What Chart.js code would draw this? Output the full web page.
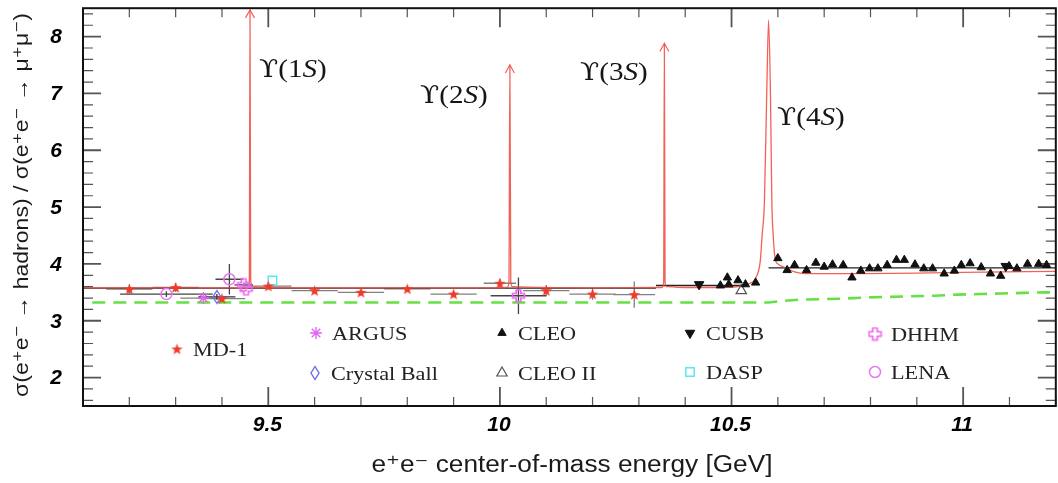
<!DOCTYPE html>
<html>
<head>
<meta charset="utf-8">
<script src="https://cdn.jsdelivr.net/npm/chart.js@4.4.1/dist/chart.umd.min.js"></script>
<style>
  html, body { margin: 0; padding: 0; background: #fff; overflow: hidden; }
</style>
</head>
<body>
<canvas id="rChart" width="1064" height="483"></canvas>
<script>
// R = sigma(hadrons)/sigma(mumu) in the Upsilon region

// theory curve with the four resonances
var curveE = [9.10, 9.455, 9.459, 9.4605, 9.462, 9.467, 9.60, 10.00, 10.016, 10.0195, 10.0215, 10.0235, 10.027, 10.20,
  10.35, 10.3535, 10.355, 10.3565, 10.36, 10.40, 10.50, 10.52, 10.54, 10.552, 10.562, 10.566, 10.571, 10.576, 10.58,
  10.584, 10.587, 10.590, 10.594, 10.60, 10.615, 10.636, 10.66, 10.75, 11.00, 11.20];
var curveR = [3.578, 3.578, 3.65, 8.47, 3.70, 3.59, 3.578, 3.578, 3.59, 3.68, 7.50, 3.68, 3.60, 3.58,
  3.585, 3.68, 7.88, 3.68, 3.60, 3.585, 3.59, 3.61, 3.66, 3.75, 4.05, 4.50, 5.10, 7.00, 8.29,
  7.00, 5.10, 4.50, 4.10, 4.00, 3.94, 3.86, 3.83, 3.83, 3.85, 3.87];
var arrowE = [9.4605, 10.0215, 10.355];

// pQCD expectation (dashed)
var qcdE = [9.12, 10.58, 10.61, 10.645, 10.693, 10.742, 10.79, 10.837, 10.888, 10.938, 10.987, 11.039, 11.084, 11.131, 11.178, 11.20];
var qcdR = [3.32, 3.32, 3.35, 3.37, 3.38, 3.39, 3.41, 3.42, 3.43, 3.44, 3.46, 3.47, 3.48, 3.49, 3.50, 3.50];

// averaged continuum levels [from, to, R]
var levelSegs = [[9.10, 10.337, 3.575], [10.337, 10.53, 3.62], [10.58, 11.20, 3.93]];

// measurements
var md1E = [9.2, 9.3, 9.4, 9.5, 9.6, 9.7, 9.8, 9.9, 10.0, 10.1, 10.2, 10.29];
var md1R = [3.556, 3.585, 3.39, 3.61, 3.53, 3.50, 3.56, 3.47, 3.66, 3.53, 3.47, 3.46];
var md1dE = [0.05, 0.05, 0.05, 0.05, 0.05, 0.05, 0.05, 0.05, 0.035, 0.05, 0.05, 0.045];
var md1dR = [0.08, 0.08, 0.05, 0.06, 0.05, 0.05, 0.05, 0.05, 0.08, 0.10, 0.10, 0.23];

var argusE = [9.36], argusR = [3.40], argusdE = [0.05], argusdR = [0.04];
var cbE = [9.389], cbR = [3.42], cbdE = [0.04], cbdR = [0.05];
var lenaE = [9.28, 9.416], lenaR = [3.47, 3.73], lenadE = [0.10, 0.03], lenadR = [0.05, 0.27];
var dhhmE = [9.447, 9.452, 10.04], dhhmR = [3.63, 3.56, 3.44], dhhmdE = [0.02, 0, 0.06], dhhmdR = [0.03, 0, 0.32];
var daspE = [9.509], daspR = [3.71];
var cusbE = [10.43, 11.092], cusbR = [3.64, 3.96];
var cleo2E = [10.521], cleo2R = [3.53];
var cleoE = [10.476, 10.491, 10.494, 10.514, 10.530, 10.552, 10.600, 10.620, 10.636, 10.662, 10.682, 10.700, 10.718,
  10.741, 10.760, 10.779, 10.798, 10.816, 10.836, 10.856, 10.873, 10.896, 10.915, 10.934, 10.959, 10.981, 10.996,
  11.015, 11.039, 11.059, 11.081, 11.099, 11.116, 11.139, 11.163, 11.180];
var cleoR = [3.62, 3.76, 3.64, 3.71, 3.64, 3.67, 4.10, 3.89, 3.98, 3.89, 4.02, 3.95, 3.99,
  3.98, 3.76, 3.88, 3.92, 3.92, 3.98, 4.07, 4.07, 3.99, 3.92, 3.92, 3.83, 3.88, 3.98,
  4.01, 3.94, 3.83, 3.79, 3.96, 3.92, 4.00, 4.00, 3.98];

// axis ticks
var xLabels = ['9.5', '10', '10.5', '11'];
var yLabels = ['2', '3', '4', '5', '6', '7', '8'];
var peakNames = ['1', '2', '3', '4'];

function pts(xs, ys) {
  return xs.map(function (x, i) { return { x: x, y: ys[i] }; });
}

function marker(w, h, draw) {
  var c = document.createElement('canvas');
  c.width = w; c.height = h;
  draw(c.getContext('2d'), w, h);
  return c;
}

var starMark = marker(13, 13, function (g) {
  g.fillStyle = '#f03a2a';
  g.beginPath();
  for (var i = 0; i < 10; i++) {
    var r = i % 2 ? 2.4 : 6;
    var a = -Math.PI / 2 + i * Math.PI / 5;
    g.lineTo(6.5 + r * Math.cos(a), 7 + r * Math.sin(a));
  }
  g.closePath();
  g.fill();
});

var diamondMark = marker(12, 16, function (g) {
  g.strokeStyle = '#6b6bf0';
  g.lineWidth = 1.4;
  g.beginPath();
  g.moveTo(6, 1.5); g.lineTo(10, 8); g.lineTo(6, 14.5); g.lineTo(2, 8);
  g.closePath();
  g.stroke();
});

var crossMark = marker(15, 15, function (g) {
  var a = 1.5, b = 5.2, c = 9.8, d = 13.5;
  g.strokeStyle = '#ee66ee';
  g.lineWidth = 1.6;
  g.beginPath();
  g.moveTo(b, a); g.lineTo(c, a); g.lineTo(c, b); g.lineTo(d, b); g.lineTo(d, c); g.lineTo(c, c);
  g.lineTo(c, d); g.lineTo(b, d); g.lineTo(b, c); g.lineTo(a, c); g.lineTo(a, b); g.lineTo(b, b);
  g.closePath();
  g.stroke();
});

function pointSet(label, xs, ys, style, extra) {
  var ds = {
    label: label,
    data: pts(xs, ys),
    showLine: false,
    pointStyle: style.shape,
    pointRadius: style.r,
    pointRotation: style.rot || 0,
    backgroundColor: style.fill,
    borderColor: style.line,
    borderWidth: style.bw || 1.2,
    legendAt: style.at
  };
  for (var k in extra) ds[k] = extra[k];
  return ds;
}

var datasets = [
  pointSet('MD-1', md1E, md1R, { shape: starMark, r: 6, fill: '#f03a2a', line: '#f03a2a', at: [177, 349] },
    { errE: md1dE, errR: md1dR, errColor: '#808080' }),
  pointSet('ARGUS', argusE, argusR, { shape: 'star', r: 6, fill: 'transparent', line: '#e066f0', bw: 1.4, at: [316, 333] },
    { errE: argusdE, errR: argusdR, errColor: '#808080' }),
  pointSet('Crystal Ball', cbE, cbR, { shape: diamondMark, r: 7, fill: 'transparent', line: '#6b6bf0', at: [315, 373] },
    { errE: cbdE, errR: cbdR, errColor: '#333' }),
  pointSet('CLEO', cleoE, cleoR, { shape: 'triangle', r: 4.8, fill: '#111', line: '#111', bw: 1, at: [502, 333] }),
  pointSet('CLEO II', cleo2E, cleo2R, { shape: 'triangle', r: 6, fill: 'transparent', line: '#555', bw: 1.2, at: [502, 373] }),
  pointSet('CUSB', cusbE, cusbR, { shape: 'triangle', r: 5.5, rot: 180, fill: '#111', line: '#111', bw: 1, at: [690, 333] }),
  pointSet('DASP', daspE, daspR, { shape: 'rect', r: 6, fill: 'transparent', line: '#5ee6f0', bw: 1.5, at: [690, 372] }),
  pointSet('DHHM', dhhmE, dhhmR, { shape: crossMark, r: 7, fill: 'transparent', line: '#ee66ee', at: [875, 334] },
    { errE: dhhmdE, errR: dhhmdR, errColor: '#444' }),
  pointSet('LENA', lenaE, lenaR, { shape: 'circle', r: 5.5, fill: 'transparent', line: '#e878f0', bw: 1.5, at: [875, 372] },
    { errE: lenadE, errR: lenadR, errColor: '#444' }),
  {
    label: 'curve',
    data: pts(curveE, curveR),
    showLine: true,
    borderColor: 'rgba(240, 80, 70, 0.9)',
    borderWidth: 1.3,
    pointRadius: 0,
    cubicInterpolationMode: 'monotone',
    arrows: arrowE
  },
  {
    label: 'levels',
    data: levelSegs.reduce(function (acc, s) {
      return acc.concat([{ x: s[0], y: s[2] }, { x: s[1], y: s[2] }, { x: s[1], y: null }]);
    }, []),
    showLine: true,
    spanGaps: false,
    borderColor: '#222',
    borderWidth: 1.4,
    pointRadius: 0
  },
  {
    label: 'qcd',
    data: pts(qcdE, qcdR),
    showLine: true,
    borderColor: '#66e044',
    borderWidth: 2.6,
    borderDash: [13, 8],
    pointRadius: 0
  }
];

// stretched text helper (text runs with own fonts)
function drawRuns(ctx, runs, x, y, sx, align) {
  var w = 0;
  runs.forEach(function (r) { ctx.font = r.f; w += ctx.measureText(r.t).width; });
  ctx.save();
  ctx.translate(x, y);
  ctx.scale(sx, 1);
  var cx = align === 'center' ? -w / 2 : 0;
  ctx.textBaseline = 'middle';
  ctx.textAlign = 'left';
  runs.forEach(function (r) { ctx.font = r.f; ctx.fillText(r.t, cx, 0); cx += ctx.measureText(r.t).width; });
  ctx.restore();
}

function fitText(ctx, text, font, x, y, width, rot) {
  ctx.save();
  ctx.font = font;
  var w = ctx.measureText(text).width;
  ctx.translate(x, y);
  if (rot) ctx.rotate(rot);
  ctx.scale(width / w, 1);
  ctx.textAlign = 'center';
  ctx.textBaseline = 'middle';
  ctx.fillText(text, 0, 0);
  ctx.restore();
}

var errorBars = {
  id: 'errorBars',
  beforeDatasetsDraw: function (chart) {
    var ctx = chart.ctx, xs = chart.scales.x, ys = chart.scales.y;
    chart.data.datasets.forEach(function (ds) {
      if (!ds.errE) return;
      ctx.save();
      ctx.strokeStyle = ds.errColor;
      ctx.lineWidth = 1.3;
      ds.data.forEach(function (p, i) {
        var px = xs.getPixelForValue(p.x), py = ys.getPixelForValue(p.y);
        ctx.beginPath();
        if (ds.errE[i]) {
          ctx.moveTo(xs.getPixelForValue(p.x - ds.errE[i]), py);
          ctx.lineTo(xs.getPixelForValue(p.x + ds.errE[i]), py);
        }
        if (ds.errR[i]) {
          ctx.moveTo(px, ys.getPixelForValue(p.y - ds.errR[i]));
          ctx.lineTo(px, ys.getPixelForValue(p.y + ds.errR[i]));
        }
        ctx.stroke();
      });
      ctx.restore();
    });
  }
};

var frame = {
  id: 'frame',
  beforeDatasetsDraw: function (chart) {
    var ctx = chart.ctx, a = chart.chartArea, xs = chart.scales.x, ys = chart.scales.y;
    ctx.save();
    ctx.strokeStyle = '#555';
    var i, v, p, len;
    for (i = 92; i <= 112; i++) {
      v = i / 10;
      p = xs.getPixelForValue(v);
      len = (i % 5 === 0) ? 19 : 9;
      ctx.lineWidth = (i % 5 === 0) ? 1.8 : 1.2;
      ctx.beginPath();
      ctx.moveTo(p, a.top); ctx.lineTo(p, a.top + len);
      ctx.moveTo(p, a.bottom); ctx.lineTo(p, a.bottom - len);
      ctx.stroke();
    }
    for (i = 8; i <= 42; i++) {
      v = i / 5;
      p = ys.getPixelForValue(v);
      len = (i % 5 === 0) ? 18 : 10;
      ctx.lineWidth = (i % 5 === 0) ? 1.8 : 1.2;
      ctx.beginPath();
      ctx.moveTo(a.left, p); ctx.lineTo(a.left + len, p);
      ctx.moveTo(a.right, p); ctx.lineTo(a.right - len, p);
      ctx.stroke();
    }
    ctx.restore();
  },
  afterDatasetsDraw: function (chart) {
    var ctx = chart.ctx, a = chart.chartArea, xs = chart.scales.x, ys = chart.scales.y;
    ctx.save();
    // arrowheads on the narrow resonances
    chart.data.datasets.forEach(function (ds) {
      if (!ds.arrows) return;
      ctx.strokeStyle = ds.borderColor;
      ctx.lineWidth = 1.2;
      ds.arrows.forEach(function (e) {
        var top = ds.data.filter(function (p) { return p.x === e; })[0];
        var px = xs.getPixelForValue(top.x), py = ys.getPixelForValue(top.y);
        ctx.beginPath();
        ctx.moveTo(px - 4.5, py + 8); ctx.lineTo(px, py); ctx.lineTo(px + 4.5, py + 8);
        ctx.stroke();
      });
    });
    ctx.strokeStyle = '#111';
    ctx.lineWidth = 2;
    ctx.strokeRect(a.left, a.top, a.right - a.left, a.bottom - a.top);

    // tick labels
    ctx.fillStyle = '#000';
    ctx.font = 'italic bold 21px "Liberation Sans", Arial, sans-serif';
    ctx.textBaseline = 'middle';
    ctx.textAlign = 'center';
    xLabels.forEach(function (t) { ctx.fillText(t, xs.getPixelForValue(parseFloat(t)) - 1, a.bottom + 19); });
    ctx.textAlign = 'right';
    yLabels.forEach(function (t) { ctx.fillText(t, a.left - 21, ys.getPixelForValue(parseFloat(t)) + 1); });
    ctx.restore();
  }
};

var labels = {
  id: 'labels',
  afterDraw: function (chart) {
    var ctx = chart.ctx;
    var serif = '"Liberation Serif", "DejaVu Serif", serif';
    ctx.save();
    ctx.fillStyle = '#151515';
    // resonance names
    var spots = [[259, 70], [420, 96], [580, 73], [777, 118]];
    spots.forEach(function (s, i) {
      drawRuns(ctx, [
        { t: '\u03D2', f: '25px "DejaVu Serif", serif' },
        { t: '(' + peakNames[i], f: '26px ' + serif },
        { t: 'S', f: 'italic 26px ' + serif },
        { t: ')', f: '26px ' + serif }
      ], s[0], s[1], 1.12, 'left');
    });
    // legend
    chart.data.datasets.forEach(function (ds) {
      if (!ds.legendAt) return;
      var m = ds.legendAt;
      ctx.fillStyle = ds.backgroundColor;
      ctx.strokeStyle = ds.borderColor;
      ctx.lineWidth = ds.borderWidth;
      Chart.helpers.drawPoint(ctx, {
        pointStyle: ds.pointStyle, radius: ds.pointRadius, rotation: ds.pointRotation, borderWidth: ds.borderWidth
      }, m[0], m[1]);
      ctx.fillStyle = '#222';
      drawRuns(ctx, [{ t: ds.label, f: '19px ' + serif }], m[0] + 16, m[1] + 2, 1.17, 'left');
    });
    // axis titles
    ctx.fillStyle = '#1a1a1a';
    var sans = '"Liberation Sans", "DejaVu Sans", sans-serif';
    fitText(ctx, 'e\u207Ae\u207B center-of-mass energy [GeV]', '23px ' + sans, 572, 466, 401, 0);
    fitText(ctx, '\u03C3(e\u207Ae\u207B \u2192 hadrons) / \u03C3(e\u207Ae\u207B \u2192 \u03BC\u207A\u03BC\u207B)', '21px ' + sans,
      22, 205, 384, -Math.PI / 2);
    ctx.restore();
  }
};

new Chart(document.getElementById('rChart').getContext('2d'), {
  type: 'scatter',
  data: { datasets: datasets },
  options: {
    responsive: false,
    animation: false,
    events: [],
    layout: { padding: { top: 6, right: 2, left: 0, bottom: 0 } },
    plugins: { legend: { display: false }, tooltip: { enabled: false } },
    scales: {
      x: {
        type: 'linear',
        min: 9.1,
        max: 11.2,
        grid: { display: false, drawTicks: false },
        border: { display: false },
        ticks: { display: false },
        afterFit: function (s) { s.height = 77; }
      },
      y: {
        type: 'linear',
        min: 1.5,
        max: 8.5,
        grid: { display: false, drawTicks: false },
        border: { display: false },
        ticks: { display: false },
        afterFit: function (s) { s.width = 83; }
      }
    }
  },
  plugins: [errorBars, frame, labels]
});
</script>
</body>
</html>
